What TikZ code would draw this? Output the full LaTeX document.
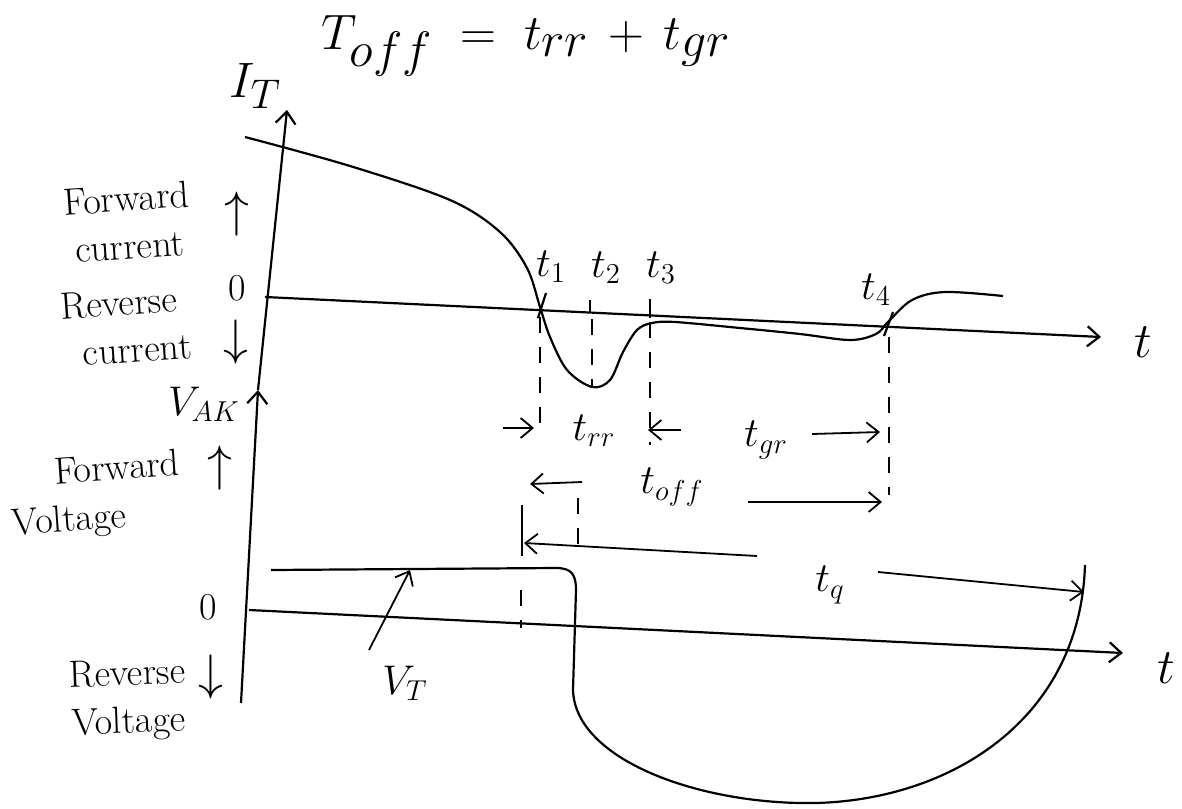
\documentclass[tikz,border=0pt]{standalone}
\usetikzlibrary{arrows.meta}

\begin{document}
\begin{tikzpicture}[x=0.5pt, y=-0.5pt, line width=1pt,
    >={Straight Barb[length=6pt,width=10pt]},
    lbl/.style={inner sep=0pt, font=\fontsize{19}{24}\selectfont},
    tlbl/.style={inner sep=1pt, font=\huge},
    axis/.style={line width=1.1pt},
    wave/.style={line width=1.1pt},
    guide/.style={line width=0.7pt, dash pattern=on 8pt off 7pt},
    dim/.style={->, line width=0.9pt}]
  \fill[white] (0,0) rectangle (1182,808);
  % formula
  \node[font=\fontsize{33}{40}\selectfont] (title) at (526,46) {$T_{off} \;=\; t_{rr} \,+\, t_{gr}$};
  % axes
  \coordinate (vbot) at (241,703);
  \coordinate (vak) at (258,390);
  \coordinate (itop) at (287,110);
  \coordinate (iorig) at (265,297);
  \coordinate (iend) at (1101,337);
  \coordinate (vorig) at (249,610);
  \coordinate (vend) at (1123,653);
  \draw[axis,->] (vbot) -- (vak);
  \draw[axis,->] (vak) -- (itop);
  \draw[axis,->] (iorig) -- (iend);
  \draw[axis,->] (vorig) -- (vend);
  \node[font=\Huge] (it) at (255,86) {$I_T$};
  \node[tlbl] (vaklbl) at (204,404) {$V_{AK}$};
  \node[font=\Huge] (taxI) at (1143,342) {$t$};
  \node[font=\Huge] (taxV) at (1166,668) {$t$};
  % left side labels
  \node[lbl, rotate=4, align=center] (fwdc) at (128,222) {Forward\\current};
  \node[font=\Huge] (upc) at (237,214) {$\uparrow$};
  \node[lbl] (zeroc) at (237,288) {0};
  \node[lbl, rotate=4, align=left] (revc) at (126,326) {Reverse\\\hspace*{0.5em}current};
  \node[font=\Huge] (dnc) at (236,342) {$\downarrow$};
  \node[lbl, rotate=4, align=left] (fwdv) at (96,496) {\hspace*{1.2em}Forward\\Voltage};
  \node[font=\Huge] (upv) at (220,468) {$\uparrow$};
  \node[lbl] (zerov) at (208,607) {0};
  \node[lbl, rotate=2, align=center] (revv) at (128,700) {Reverse\\Voltage};
  \node[font=\Huge] (dnv) at (211,677) {$\downarrow$};
  % anode current
  \draw[wave] plot[smooth, tension=0.55] coordinates {(245,137) (350,166) (450,200) (500,232)
    (527,268) (540,307) (550,337) (567,370) (592,387) (610,380) (623,352) (637,330)
    (652,323) (675,322) (740,328) (800,334) (850,340) (876,334) (888,322) (912,300)
    (945,292) (1003,296)};
  \coordinate (c1) at (540,307);
  \coordinate (c2) at (591,305);
  \coordinate (c3) at (650,308);
  \coordinate (c4) at (888,323);
  \draw[wave] (546,293) -- (538,318);
  \draw (590,300) -- (590,312);
  \draw (650,299) -- (650,318);
  \draw[wave] (893,312) -- (884,336);
  \node[tlbl] (t1) at (551,267) {$t_1$};
  \node[tlbl] (t2) at (606,268) {$t_2$};
  \node[tlbl] (t3) at (661,268) {$t_3$};
  \node[tlbl] (t4) at (876,290) {$t_4$};
  % guides
  \coordinate (g1) at (540,432);
  \coordinate (g2) at (592,387);
  \coordinate (g3) at (650,445);
  \coordinate (g4) at (889,495);
  \draw[guide] (c1) ++(0,10) -- (g1);
  \draw[guide] (c2) ++(1,14) -- (g2);
  \draw[guide] (c3) ++(0,14) -- (g3);
  \draw[guide] (c4) ++(1,14) -- (g4);
  % trr, tgr, toff
  \node[tlbl] (trr) at (594,431) {$t_{rr}$};
  \node[tlbl] (tgr) at (766,440) {$t_{gr}$};
  \node[tlbl] (toff) at (672,487) {$t_{off}$};
  \coordinate (a1) at (503,428);
  \coordinate (a2) at (534,428);
  \coordinate (a3) at (681,430);
  \coordinate (a4) at (648,430);
  \coordinate (a5) at (812,434);
  \coordinate (a6) at (880,432);
  \coordinate (a7) at (582,482);
  \coordinate (a8) at (530,484);
  \coordinate (a9) at (748,502);
  \coordinate (a10) at (882,502);
  \draw[dim] (a1) -- (a2);
  \draw[dim] (a3) -- (a4);
  \draw[dim] (a5) -- (a6);
  \draw[dim] (a7) -- (a8);
  \draw[dim] (a9) -- (a10);
  % anode voltage
  \draw[wave] (271,570) -- (556,568) .. controls (572,568) and (576,575) .. (576,590)
    -- (573,690) .. controls (575,760) and (700,805) .. (815,803)
    .. controls (950,800) and (1080,720) .. (1085,565);
  \coordinate (vt0) at (369,650);
  \coordinate (vt1) at (410,570);
  \draw[dim] (vt0) -- (vt1);
  \node[tlbl] (vtlbl) at (405,683) {$V_T$};
  % tq
  \coordinate (q0) at (522,505);
  \coordinate (q1) at (522,556);
  \coordinate (q2) at (757,556);
  \coordinate (q3) at (524,543);
  \coordinate (q4) at (878,572);
  \coordinate (q5) at (1084,592);
  \draw[wave] (q0) -- (q1);
  \draw[guide] (521,590) -- (521,628);
  \draw[guide] (578,498) -- (578,556);
  \draw[dim] (q2) -- (q3);
  \draw[dim] (q4) -- (q5);
  \node[tlbl] (tq) at (830,585) {$t_q$};
\end{tikzpicture}
\end{document}
